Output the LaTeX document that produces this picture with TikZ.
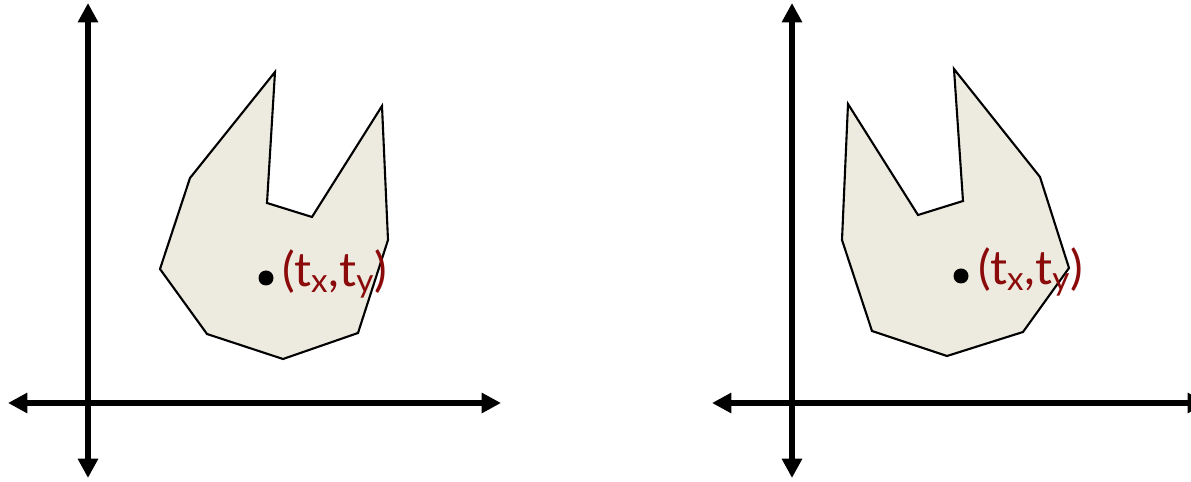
\documentclass[tikz,border=0pt]{standalone}
\usepackage{fontspec}
\setmainfont{Lato}
\usetikzlibrary{arrows.meta}
\definecolor{ink}{HTML}{000000}
\definecolor{shape}{HTML}{EDEBE0}
\definecolor{lab}{HTML}{8B0A0A}
\tikzset{
  axis/.style={ink,line width=2.9pt,{Triangle[length=11pt,width=11pt]}-{Triangle[length=11pt,width=11pt]}},
  body/.style={ink,fill=shape,line width=1.2pt,line join=miter},
  dot/.style={circle,fill=ink,inner sep=0pt,minimum size=15\pxu},
  tlabel/.style={lab,font=\fontsize{27}{30}\selectfont,anchor=west,inner sep=0pt},
}
\newlength{\pxu}
\setlength{\pxu}{0.02cm}

\begin{document}
\begin{tikzpicture}[x=0.02cm,y=-0.02cm]
\useasboundingbox (0,0) rectangle (1191,482);

% ---------------------------------------------------------------- left panel
\coordinate (lxa) at (8,403);
\coordinate (lxb) at (501,403);
\coordinate (lya) at (88,478);
\coordinate (lyb) at (88,3);
\draw[body] (275,72) -- (267,203) -- (312,217) -- (382,106) -- (388,240)
  -- (358,333) -- (283,359) -- (207,334) -- (160,269) -- (190,178) -- cycle;
\draw[axis] (lxa) -- (lxb);
\draw[axis] (lya) -- (lyb);
\node[dot] (lp) at (266,278) {};
\node[tlabel] (lt) at (282,274) {(t\textsubscript{x},t\textsubscript{y})};

% ---------------------------------------------------------------- right panel
\coordinate (rxa) at (712,403);
\coordinate (rxb) at (1207,403);
\coordinate (rya) at (792,478);
\coordinate (ryb) at (792,3);
\draw[body] (954,69) -- (963,201) -- (918,215) -- (848,104) -- (842,240)
  -- (872,331) -- (947,356) -- (1023,332) -- (1069,268) -- (1040,177) -- cycle;
\draw[axis] (rxa) -- (rxb);
\draw[axis] (rya) -- (ryb);
\node[dot] (rp) at (961,276) {};
\node[tlabel] (rt) at (978,272) {(t\textsubscript{x},t\textsubscript{y})};

\end{tikzpicture}
\end{document}
